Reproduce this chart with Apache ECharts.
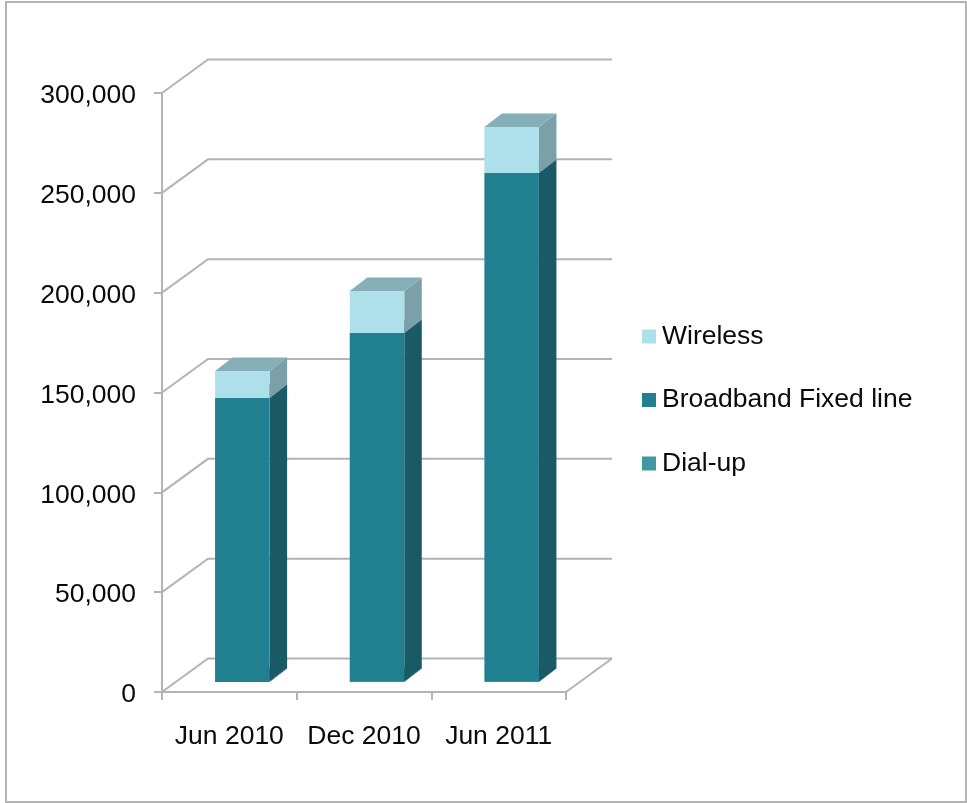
<!DOCTYPE html>
<html>
<head>
<meta charset="utf-8">
<style>html,body{margin:0;padding:0;background:#fff}#c{width:967px;height:803px}</style>
<script src="https://cdn.jsdelivr.net/npm/echarts@6/dist/echarts.min.js"></script>
</head>
<body>
<div id="c"></div>
<script>
const categories = ['Jun 2010', 'Dec 2010', 'Jun 2011'];
const dialUp = [500, 400, 300];
const broadband = [141700, 174400, 254600];
const wireless = [13500, 21000, 23100];
const valueTicks = [0, 50000, 100000, 150000, 200000, 250000, 300000];

const FONT = 'Liberation Sans, Arial, sans-serif';
const GRID_LINE = '#b4b4b4';
const WALL = [46, -33.5], BAR_SHIFT = [13, -10], BAR_DEPTH = [17.5, -13.5], BAR_RATIO = 0.405;

const chart = echarts.init(document.getElementById('c'), null, {renderer: 'canvas'});

function poly(points, fill) {
  return {type: 'polygon', shape: {points}, style: {fill}};
}
function boxSeries(name, lower, values, colors, legendColor) {
  return {
    name, type: 'custom', z: 3,
    coordinateSystem: 'cartesian2d',
    itemStyle: {color: legendColor},
    encode: {x: 0, y: [1, 2]},
    data: values.map((v, i) => [i, lower[i], lower[i] + v]),
    renderItem(params, api) {
      const i = api.value(0);
      const a = api.coord([i, api.value(1)]);
      const b = api.coord([i, api.value(2)]);
      const w = api.size([1, 0])[0] * BAR_RATIO;
      const l = a[0] + BAR_SHIFT[0] - w / 2, r = l + w;
      const y0 = a[1] + BAR_SHIFT[1], y1 = b[1] + BAR_SHIFT[1];
      const dx = BAR_DEPTH[0], dy = BAR_DEPTH[1];
      return {type: 'group', children: [
        poly([[r, y0], [r + dx, y0 + dy], [r + dx, y1 + dy], [r, y1]], colors.side),
        poly([[l, y1], [r, y1], [r + dx, y1 + dy], [l + dx, y1 + dy]], colors.top),
        poly([[l, y0], [r, y0], [r, y1], [l, y1]], colors.front)
      ]};
    }
  };
}

const base0 = categories.map(() => 0);
const base1 = dialUp.slice();
const base2 = dialUp.map((v, i) => v + broadband[i]);

const wallSeries = {
  type: 'custom', name: 'wall', z: 1, silent: true,
  coordinateSystem: 'cartesian2d',
  encode: {y: 1},
  data: valueTicks.map(v => [0, v]),
  renderItem(params, api) {
    const v = api.value(1);
    const y = api.coord([0, v])[1];
    const cs = params.coordSys;
    const x0 = cs.x, x1 = cs.x + cs.width;
    const style = {stroke: GRID_LINE, lineWidth: 2, fill: null};
    const children = [{type: 'polyline', style, shape: {points: [
      [x0, y], [x0 + WALL[0], y + WALL[1]], [x1 + WALL[0], y + WALL[1]]
    ]}}];
    if (v === 0) {
      children.push({type: 'line', style, shape: {x1, y1: y, x2: x1 + WALL[0], y2: y + WALL[1]}});
    }
    return {type: 'group', children};
  }
};

chart.setOption({
  animation: false,
  backgroundColor: '#fff',
  graphic: [{
    type: 'rect', z: 0, silent: true,
    shape: {x: 6, y: 2, width: 960, height: 800},
    style: {fill: 'none', stroke: '#b4b4b4', lineWidth: 2}
  }],
  legend: {
    show: true, orient: 'vertical', left: 637, top: 318,
    itemWidth: 14, itemHeight: 14, itemGap: 36.5,
    icon: 'rect',
    data: ['Wireless', 'Broadband Fixed line', 'Dial-up'],
    textStyle: {fontFamily: FONT, fontSize: 26.5, color: '#0a0a0a', padding: [0, 0, 0, 1]},
    selectedMode: false
  },
  grid: {left: 162, top: 93, width: 404, height: 599, containLabel: false},
  xAxis: {
    type: 'category', data: categories,
    boundaryGap: true,
    axisLine: {show: true, lineStyle: {color: GRID_LINE, width: 2}},
    axisTick: {show: true, length: 8, alignWithLabel: false, lineStyle: {color: GRID_LINE, width: 2}},
    axisLabel: {interval: 0, margin: 31, fontFamily: FONT, fontSize: 26.5, color: '#0a0a0a'},
    splitLine: {show: false}
  },
  yAxis: {
    type: 'value', min: 0, max: 300000, interval: 50000,
    axisLine: {show: true, lineStyle: {color: GRID_LINE, width: 2}},
    axisTick: {show: true, length: 8, lineStyle: {color: GRID_LINE, width: 2}},
    axisLabel: {
      margin: 26,
      formatter: v => '{t|' + v.toLocaleString('en-US') + '}',
      rich: {t: {fontFamily: FONT, fontSize: 26.5, color: '#0a0a0a', padding: [6, 0, 0, 0]}}
    },
    splitLine: {show: false}
  },
  series: [
    wallSeries,
    boxSeries('Dial-up', base0, dialUp, {front: '#21808f', side: '#1a5a66', top: '#1f6f7c'}, '#3f99a3'),
    boxSeries('Broadband Fixed line', base1, broadband, {front: '#21808f', side: '#1a5a66', top: '#1f6f7c'}, '#21808f'),
    boxSeries('Wireless', base2, wireless, {front: '#aee0ec', side: '#7ba0a8', top: '#85b0b8'}, '#aee0ec')
  ]
});
</script>
</body>
</html>
